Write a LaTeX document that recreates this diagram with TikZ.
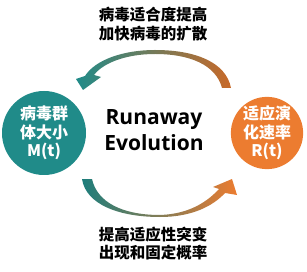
\documentclass[tikz,border=0pt]{standalone}
\usepackage{fontspec}
\setmainfont{Open Sans}
\newfontfamily\cjk{Noto Sans CJK SC}[BoldFont={Noto Sans CJK SC Black}]
\usetikzlibrary{math}
\definecolor{qteal}{RGB}{32,139,137}
\definecolor{qorange}{RGB}{236,124,48}
\definecolor{qmid}{RGB}{98,100,150}

\begin{document}
\begin{tikzpicture}[x=1pt,y=-1pt,
  popnode/.style={circle,fill=qteal,minimum size=84pt,inner sep=0pt,text=white,align=center,font=\cjk\bfseries\fontsize{16}{18.5}\selectfont},
  ratenode/.style={circle,fill=qorange,minimum size=72pt,inner sep=0pt,text=white,align=center,font=\cjk\bfseries\fontsize{16}{18.5}\selectfont},
  cjktext/.style={align=center,font=\cjk\bfseries\fontsize{15.5}{18.5}\selectfont},
  titletext/.style={align=center,font=\bfseries\fontsize{21}{26.5}\selectfont}]
\useasboundingbox (0,0) rectangle (307,272);
%circles
\node[popnode] (pop) at (44,133) {病毒群\\体大小\\M(t)};
\node[ratenode] (rate) at (267,133) {适应演\\化速率\\R(t)};
%title
\node[titletext] (runaway) at (154,130) {Runaway\\Evolution};
%top arrow
\shade[left color=qteal,middle color=qmid,right color=qorange!85!black]
  (231,88) .. controls (226,62) and (195,50) .. (155,50)
  .. controls (123,50) and (95,60) .. (85,76)
  -- (76,79) -- (83,90) -- (101,77) -- (94,75)
  .. controls (103,63) and (126,54) .. (155,54)
  .. controls (190,54) and (216,65) .. (222,88) -- cycle;
%bottom arrow
\shade[left color=qteal!90!black,middle color=qmid,right color=qorange]
  (82,179) .. controls (86,205) and (120,217) .. (160,217)
  .. controls (192,217) and (213,206) .. (225,193)
  -- (237,195) -- (232,179) -- (213,187) -- (219,189)
  .. controls (208,201) and (190,214) .. (160,215)
  .. controls (122,215) and (97,202) .. (92,179) -- cycle;
%labels
\node[cjktext] (fitness) at (153,24) {病毒适合度提高\\加快病毒的扩散};
\node[cjktext] (mutation) at (153,243.5) {提高适应性突变\\出现和固定概率};
\end{tikzpicture}
\end{document}
